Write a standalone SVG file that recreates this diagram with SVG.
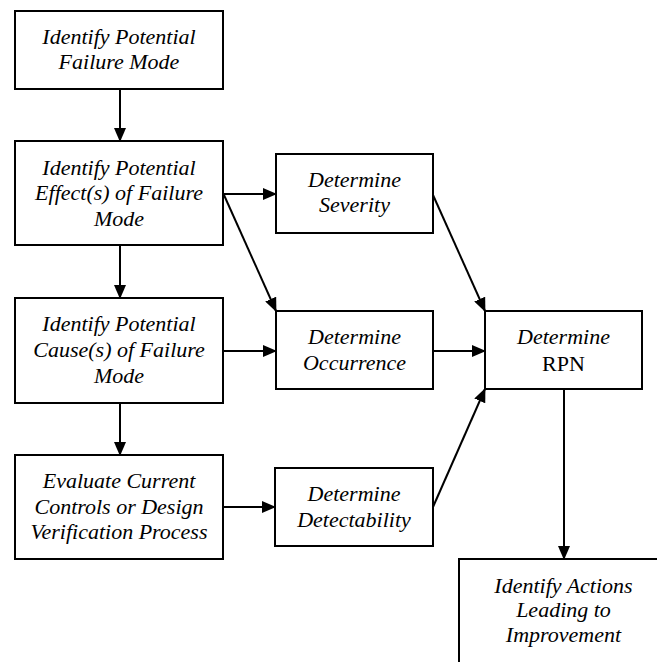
<svg xmlns="http://www.w3.org/2000/svg" width="657" height="662" viewBox="0 0 657 662">
<defs>
<marker id="ah" markerUnits="userSpaceOnUse" markerWidth="14" markerHeight="12" refX="13" refY="6" orient="auto">
<path d="M0,0 L14,6 L0,12 Z" fill="#000"/>
</marker>
</defs>
<rect width="657" height="662" fill="#fff"/>
<g id="connectors" fill="none" stroke="#000" stroke-width="2" marker-end="url(#ah)">
<line x1="120" y1="89" x2="120" y2="141"/>
<line x1="120" y1="245" x2="120" y2="298"/>
<line x1="120" y1="403" x2="120" y2="455"/>
<line x1="223" y1="194" x2="276" y2="194"/>
<line x1="224" y1="195" x2="276" y2="311"/>
<line x1="223" y1="351" x2="276" y2="351"/>
<line x1="223" y1="507" x2="275" y2="507"/>
<line x1="433" y1="195" x2="485" y2="311"/>
<line x1="433" y1="351" x2="485" y2="351"/>
<line x1="433" y1="507" x2="485" y2="389"/>
<line x1="564" y1="389" x2="564" y2="559"/>
</g>
<g font-size="22" text-anchor="middle" fill="#000">
<g id="n1">
<rect x="15" y="11" width="208" height="78" fill="#fff" stroke="#000" stroke-width="2"/>
<text x="119" y="44" style="font-family:'Liberation Serif',serif;font-style:italic">Identify Potential</text>
<text x="119" y="69" style="font-family:'Liberation Serif',serif;font-style:italic">Failure Mode</text>
</g>
<g id="n2">
<rect x="15" y="141" width="208" height="104" fill="#fff" stroke="#000" stroke-width="2"/>
<text x="119" y="175" style="font-family:'Liberation Serif',serif;font-style:italic">Identify Potential</text>
<text x="119" y="200" style="font-family:'Liberation Serif',serif;font-style:italic">Effect(s) of Failure</text>
<text x="119" y="226" style="font-family:'Liberation Serif',serif;font-style:italic">Mode</text>
</g>
<g id="n3">
<rect x="15" y="298" width="208" height="105" fill="#fff" stroke="#000" stroke-width="2"/>
<text x="119" y="331" style="font-family:'Liberation Serif',serif;font-style:italic">Identify Potential</text>
<text x="119" y="357" style="font-family:'Liberation Serif',serif;font-style:italic">Cause(s) of Failure</text>
<text x="119" y="383" style="font-family:'Liberation Serif',serif;font-style:italic">Mode</text>
</g>
<g id="n4">
<rect x="15" y="455" width="208" height="104" fill="#fff" stroke="#000" stroke-width="2"/>
<text x="119" y="488" style="font-family:'Liberation Serif',serif;font-style:italic">Evaluate Current</text>
<text x="119" y="514" style="font-family:'Liberation Serif',serif;font-style:italic">Controls or Design</text>
<text x="119" y="539" style="font-family:'Liberation Serif',serif;font-style:italic">Verification Process</text>
</g>
<g id="severity">
<rect x="276" y="154" width="157" height="79" fill="#fff" stroke="#000" stroke-width="2"/>
<text x="354.5" y="187" style="font-family:'Liberation Serif',serif;font-style:italic">Determine</text>
<text x="354.5" y="212" style="font-family:'Liberation Serif',serif;font-style:italic">Severity</text>
</g>
<g id="occurrence">
<rect x="276" y="311" width="157" height="78" fill="#fff" stroke="#000" stroke-width="2"/>
<text x="354.5" y="344" style="font-family:'Liberation Serif',serif;font-style:italic">Determine</text>
<text x="354.5" y="370" style="font-family:'Liberation Serif',serif;font-style:italic">Occurrence</text>
</g>
<g id="detectability">
<rect x="275" y="468" width="158" height="78" fill="#fff" stroke="#000" stroke-width="2"/>
<text x="354" y="501" style="font-family:'Liberation Serif',serif;font-style:italic">Determine</text>
<text x="354" y="527" style="font-family:'Liberation Serif',serif;font-style:italic">Detectability</text>
</g>
<g id="rpn">
<rect x="485" y="311" width="157" height="78" fill="#fff" stroke="#000" stroke-width="2"/>
<text x="563.5" y="344" style="font-family:'Liberation Serif',serif;font-style:italic">Determine</text>
<text x="563.5" y="371" style="font-family:'Liberation Serif',serif">RPN</text>
</g>
<g id="actions">
<rect x="459" y="559" width="210" height="110" fill="#fff" stroke="#000" stroke-width="2"/>
<text x="563.5" y="593" style="font-family:'Liberation Serif',serif;font-style:italic">Identify Actions</text>
<text x="563.5" y="617" style="font-family:'Liberation Serif',serif;font-style:italic">Leading to</text>
<text x="563.5" y="642" style="font-family:'Liberation Serif',serif;font-style:italic">Improvement</text>
</g>
</g>
</svg>
